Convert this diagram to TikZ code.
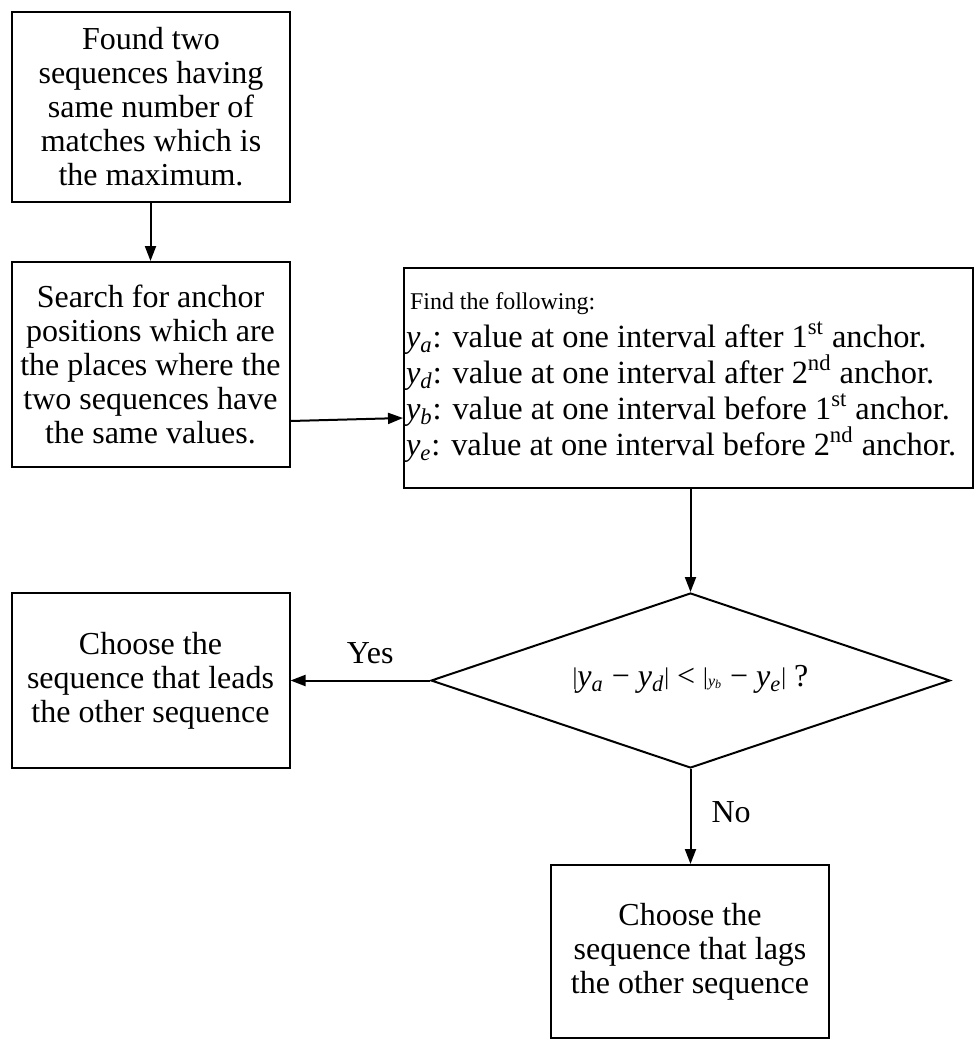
\documentclass[tikz,border=0pt]{standalone}
\usepackage{fontspec}
\setmainfont{Liberation Serif}
\usetikzlibrary{positioning}
\usetikzlibrary{arrows.meta}
\usetikzlibrary{shapes.geometric}

\newcommand{\yv}[1]{\textit{y}\textsubscript{\textit{#1}}}
\newcommand{\vbar}{{\fontsize{12}{12}\selectfont\raisebox{1pt}{|}}}

\tikzset{
  box/.style = {draw, line width=1pt, align=center, inner sep=0pt,
    minimum width=139pt, font=\fontsize{16}{17}\selectfont},
  decide/.style = {draw, line width=1pt, diamond, aspect=3, inner sep=0pt, align=center,
    font=\fontsize{16}{17}\selectfont},
  flow/.style = {line width=1pt, -{Triangle[length=7.5pt,width=5.5pt]}},
  lbl/.style = {font=\fontsize{16}{17}\selectfont, inner sep=0pt}
}

\begin{document}
\begin{tikzpicture}[x=0.5pt,y=-0.5pt]
\useasboundingbox (0,0) rectangle (975,1040);

\node[box, minimum height=95pt] (found) at (151,107)
  {Found two\\ sequences having\\ same number of\\ matches which is\\ the maximum.};
\node[box, minimum height=102.5pt] (search) at (150.5,364.5)
  {Search for anchor\\ positions which are\\ the places where the\\ two sequences have\\ the same values.};
\node[box, minimum height=110pt, align=flush left, text width=284.5pt,
  font=\fontsize{16.2}{18}\selectfont] (find) at (688.5,377.5)
  {\hspace{3pt}{\fontsize{12}{14}\selectfont Find the following:}\\[1pt]
   \hspace{1pt}\yv{a}: value at one interval after 1\textsuperscript{st} anchor.\\
   \hspace{1pt}\yv{d}: value at one interval after 2\textsuperscript{nd} anchor.\\
   \hspace{1pt}\yv{b}: value at one interval before 1\textsuperscript{st} anchor.\\
   \hspace{1pt}\yv{e}: value at one interval before 2\textsuperscript{nd} anchor.};
\node[decide, minimum width=259.5pt, minimum height=87.5pt] (test) at (690.5,680.5)
  {\raisebox{5pt}{\vbar\yv{a} − \yv{d}\vbar{} < \vbar{\itshape\fontsize{8}{8}\selectfont y\textsubscript{b}} − \yv{e}\vbar{} ?}};
\node[box, minimum height=87.5pt] (lead) at (150.5,680.5)
  {Choose the\\ sequence that leads\\ the other sequence};
\node[box, minimum height=86.5pt] (lag) at (690,951.5)
  {Choose the\\ sequence that lags\\ the other sequence};

% connectors
\draw[flow] (found.south -| search.north) -- (search.north);
\draw[flow] (search.east |- 0,421) -- (find.west |- 0,418);
\draw[flow] (find.south -| test.north) -- (test.north);
\draw[flow] (test.west) -- (lead.east |- test.west) node[lbl, midway, above=8pt, xshift=5pt] {Yes};
\draw[flow] (test.south) -- (lag.north -| test.south) node[lbl, midway, right=10pt, yshift=2pt] {No};
\end{tikzpicture}
\end{document}
